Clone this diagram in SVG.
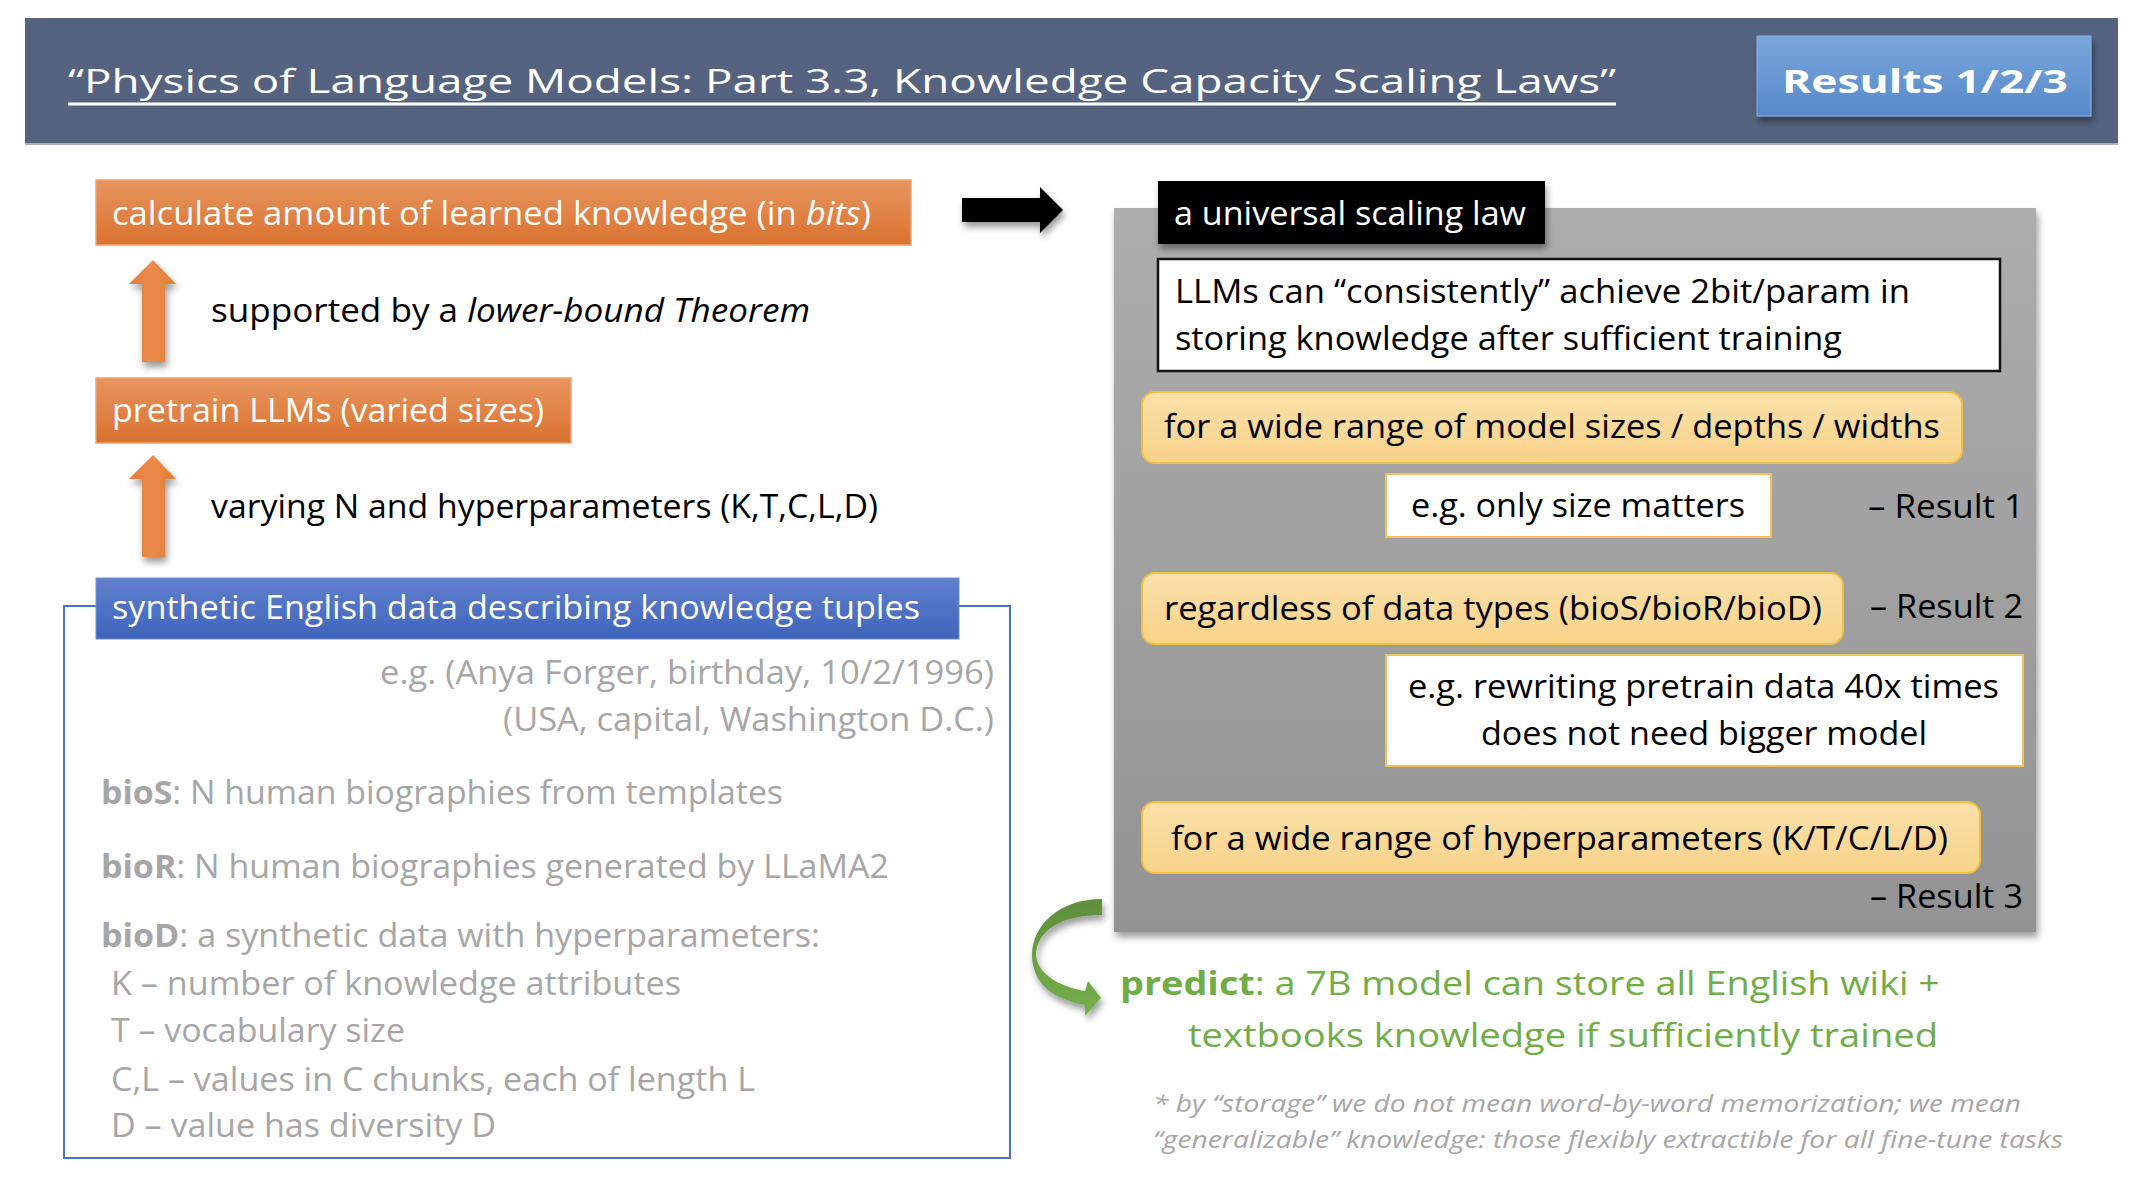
<svg xmlns="http://www.w3.org/2000/svg" width="2142" height="1190" viewBox="0 0 2142 1190">
  <defs>
    <linearGradient id="gOrange" x1="0" y1="0" x2="0" y2="1">
      <stop offset="0" stop-color="#e8955f"/>
      <stop offset="1" stop-color="#d9722f"/>
    </linearGradient>
    <linearGradient id="gOrangeArrow" x1="0" y1="0" x2="1" y2="0">
      <stop offset="0" stop-color="#e27a35"/>
      <stop offset="0.5" stop-color="#ec8c4c"/>
      <stop offset="1" stop-color="#e27a35"/>
    </linearGradient>
    <linearGradient id="gBlue" x1="0" y1="0" x2="0" y2="1">
      <stop offset="0" stop-color="#5f80cc"/>
      <stop offset="1" stop-color="#3f64bc"/>
    </linearGradient>
    <linearGradient id="gResults" x1="0" y1="0" x2="0" y2="1">
      <stop offset="0" stop-color="#7aa6dc"/>
      <stop offset="1" stop-color="#5689c9"/>
    </linearGradient>
    <linearGradient id="gPanel" x1="0" y1="0" x2="0" y2="1">
      <stop offset="0" stop-color="#adadad"/>
      <stop offset="1" stop-color="#939393"/>
    </linearGradient>
    <linearGradient id="gYellow" x1="0" y1="0" x2="0" y2="1">
      <stop offset="0" stop-color="#fbe0aa"/>
      <stop offset="1" stop-color="#f7d38a"/>
    </linearGradient>
    <linearGradient id="gGreen" x1="0" y1="0" x2="0" y2="1">
      <stop offset="0" stop-color="#5e8d3c"/>
      <stop offset="1" stop-color="#76b04b"/>
    </linearGradient>
    <filter id="shadow" x="-20%" y="-20%" width="140%" height="150%">
      <feDropShadow dx="2" dy="5" stdDeviation="3.5" flood-color="#000" flood-opacity="0.4"/>
    </filter>
    <style>
      text { font-family: "Open Sans", "Noto Sans", "Liberation Sans", sans-serif; font-size: 33px; }
      .w { fill: #ffffff; }
      .k { fill: #000000; }
      .g { fill: #a6a6a6; }
      .gr { fill: #70ad47; }
      .it { font-style: italic; }
      .b { font-weight: bold; }
      .note { font-size: 24px; font-style: italic; fill: #a6a6a6; }
      .yellow { fill: url(#gYellow); stroke: #f0c040; stroke-width: 2; }
      .orange { fill: url(#gOrange); stroke: #f0a070; stroke-width: 1.5; }
      .wbox { fill: #ffffff; stroke: #f2c35a; stroke-width: 2; }
      .uparrow { fill: url(#gOrangeArrow); filter: url(#shadow); }
    </style>
  </defs>

  <!-- header band -->
  <g id="header">
    <rect x="25" y="18" width="2093" height="126" fill="#556380"/>
    <line x1="25" y1="144" x2="2118" y2="144" stroke="#a9afc0" stroke-width="2"/>
    <text class="w" x="68" y="93" font-size="50" textLength="1548" lengthAdjust="spacingAndGlyphs">“Physics of Language Models: Part 3.3, Knowledge Capacity Scaling Laws”</text>
    <line x1="68" y1="104" x2="1616" y2="104" stroke="#ffffff" stroke-width="3"/>
  </g>
  <g id="results-badge">
    <rect x="1757" y="36" width="334" height="80" fill="url(#gResults)" stroke="#8ab2e2" stroke-width="1" filter="url(#shadow)"/>
    <text class="w b" x="1782" y="93" font-size="48" textLength="286" lengthAdjust="spacingAndGlyphs">Results 1/2/3</text>
  </g>

  <!-- connectors -->
  <g id="connectors">
    <path class="uparrow" d="M153,260 L176,284 L165,284 L165,362 L142,362 L142,284 L129,284 Z"/>
    <path class="uparrow" d="M153,455 L176,479 L165,479 L165,557 L142,557 L142,479 L129,479 Z"/>
    <path d="M962,198 L1040,198 L1040,187 L1063,210 L1040,233 L1040,222 L962,222 Z" fill="#000" filter="url(#shadow)"/>
    <path d="M1102,899 C1060,899 1032,925 1032,955 C1032,985 1056,1000 1085,1005 L1085,1016 L1101,998 L1088,981 L1085,991 C1056,986 1037,972 1036,955 C1037,930 1062,915 1102,915 Z" fill="url(#gGreen)" filter="url(#shadow)"/>
  </g>

  <!-- left column -->
  <g id="calc-knowledge">
    <rect class="orange" x="96" y="180" width="815" height="65"/>
    <text class="w" x="112" y="225" textLength="759" lengthAdjust="spacingAndGlyphs">calculate amount of learned knowledge (in <tspan class="it">bits</tspan>)</text>
  </g>
  <g id="theorem-label">
    <text class="k" x="211" y="322" textLength="599" lengthAdjust="spacingAndGlyphs">supported by a <tspan class="it">lower-bound Theorem</tspan></text>
  </g>
  <g id="pretrain">
    <rect class="orange" x="96" y="378" width="475" height="65"/>
    <text class="w" x="112" y="422" textLength="432" lengthAdjust="spacingAndGlyphs">pretrain LLMs (varied sizes)</text>
  </g>
  <g id="varying-label">
    <text class="k" x="211" y="518" textLength="667" lengthAdjust="spacingAndGlyphs">varying N and hyperparameters (K,T,C,L,D)</text>
  </g>
  <g id="synthetic-data">
    <rect x="64" y="606" width="946" height="552" fill="none" stroke="#4a72c4" stroke-width="2"/>
    <rect x="96" y="578" width="863" height="61" fill="url(#gBlue)" stroke="#6f8fd6" stroke-width="1"/>
    <text class="w" x="112" y="619" textLength="808" lengthAdjust="spacingAndGlyphs">synthetic English data describing knowledge tuples</text>
    <text class="g" x="380" y="684" textLength="614" lengthAdjust="spacingAndGlyphs">e.g. (Anya Forger, birthday, 10/2/1996)</text>
    <text class="g" x="503" y="731" textLength="491" lengthAdjust="spacingAndGlyphs">(USA, capital, Washington D.C.)</text>
    <text class="g" x="101" y="804" textLength="682" lengthAdjust="spacingAndGlyphs"><tspan class="b">bioS</tspan>: N human biographies from templates</text>
    <text class="g" x="101" y="878" textLength="788" lengthAdjust="spacingAndGlyphs"><tspan class="b">bioR</tspan>: N human biographies generated by LLaMA2</text>
    <text class="g" x="101" y="947" textLength="719" lengthAdjust="spacingAndGlyphs"><tspan class="b">bioD</tspan>: a synthetic data with hyperparameters:</text>
    <text class="g" x="111" y="995" textLength="570" lengthAdjust="spacingAndGlyphs">K – number of knowledge attributes</text>
    <text class="g" x="111" y="1042" textLength="294" lengthAdjust="spacingAndGlyphs">T – vocabulary size</text>
    <text class="g" x="111" y="1091" textLength="644" lengthAdjust="spacingAndGlyphs">C,L – values in C chunks, each of length L</text>
    <text class="g" x="111" y="1137" textLength="385" lengthAdjust="spacingAndGlyphs">D – value has diversity D</text>
  </g>

  <!-- right column: scaling law panel -->
  <g id="scaling-law">
    <rect x="1114" y="208" width="922" height="724" fill="url(#gPanel)" filter="url(#shadow)"/>
    <rect x="1158" y="181" width="387" height="63" fill="#000" filter="url(#shadow)"/>
    <text class="w" x="1174" y="225" textLength="352" lengthAdjust="spacingAndGlyphs">a universal scaling law</text>
  </g>
  <g id="claim">
    <rect x="1158" y="259" width="842" height="112" fill="#fff" stroke="#111" stroke-width="2.5"/>
    <text class="k" x="1175" y="303" textLength="735" lengthAdjust="spacingAndGlyphs">LLMs can “consistently” achieve 2bit/param in</text>
    <text class="k" x="1175" y="350" textLength="667" lengthAdjust="spacingAndGlyphs">storing knowledge after sufficient training</text>
  </g>
  <g id="model-sizes">
    <rect class="yellow" x="1142" y="392" width="820" height="71" rx="13"/>
    <text class="k" x="1164" y="438" textLength="776" lengthAdjust="spacingAndGlyphs">for a wide range of model sizes / depths / widths</text>
  </g>
  <g id="size-matters">
    <rect class="wbox" x="1386" y="474" width="385" height="63"/>
    <text class="k" x="1411" y="517" textLength="334" lengthAdjust="spacingAndGlyphs">e.g. only size matters</text>
  </g>
  <g id="result-1">
    <text class="k" x="1868" y="518" textLength="156" lengthAdjust="spacingAndGlyphs">– Result 1</text>
  </g>
  <g id="data-types">
    <rect class="yellow" x="1142" y="573" width="701" height="71" rx="13"/>
    <text class="k" x="1164" y="620" textLength="658" lengthAdjust="spacingAndGlyphs">regardless of data types (bioS/bioR/bioD)</text>
  </g>
  <g id="result-2">
    <text class="k" x="1870" y="618" textLength="153" lengthAdjust="spacingAndGlyphs">– Result 2</text>
  </g>
  <g id="rewriting">
    <rect class="wbox" x="1386" y="655" width="637" height="111"/>
    <text class="k" x="1408" y="698" textLength="591" lengthAdjust="spacingAndGlyphs">e.g. rewriting pretrain data 40x times</text>
    <text class="k" x="1481" y="745" textLength="446" lengthAdjust="spacingAndGlyphs">does not need bigger model</text>
  </g>
  <g id="hyperparameters">
    <rect class="yellow" x="1142" y="802" width="838" height="71" rx="13"/>
    <text class="k" x="1171" y="850" textLength="777" lengthAdjust="spacingAndGlyphs">for a wide range of hyperparameters (K/T/C/L/D)</text>
  </g>
  <g id="result-3">
    <text class="k" x="1870" y="908" textLength="153" lengthAdjust="spacingAndGlyphs">– Result 3</text>
  </g>

  <!-- prediction and footnote -->
  <g id="prediction">
    <text class="gr" x="1120" y="995" textLength="820" lengthAdjust="spacingAndGlyphs"><tspan class="b">predict</tspan>: a 7B model can store all English wiki +</text>
    <text class="gr" x="1188" y="1047" textLength="750" lengthAdjust="spacingAndGlyphs">textbooks knowledge if sufficiently trained</text>
  </g>
  <g id="footnote">
    <text class="note" x="1153" y="1112" textLength="868" lengthAdjust="spacingAndGlyphs">* by “storage” we do not mean word-by-word memorization; we mean</text>
    <text class="note" x="1153" y="1148" textLength="910" lengthAdjust="spacingAndGlyphs">“generalizable” knowledge: those flexibly extractible for all fine-tune tasks</text>
  </g>
</svg>
